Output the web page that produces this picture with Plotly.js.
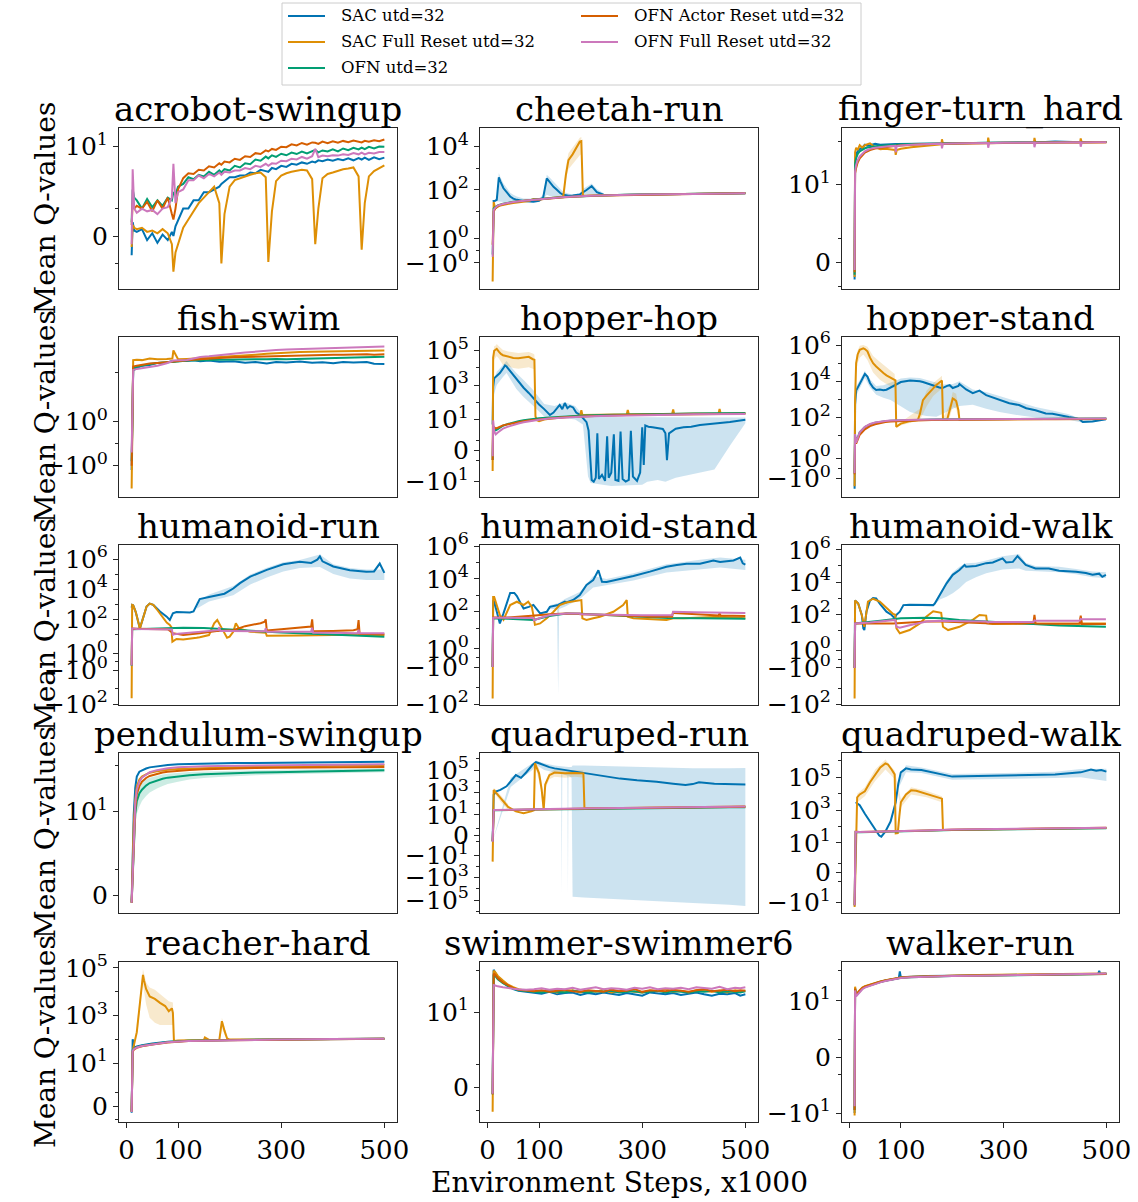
<!DOCTYPE html>
<html><head><meta charset="utf-8">
<script src="https://cdn.plot.ly/plotly-3.0.1.min.js"></script>
<style>html,body{margin:0;padding:0;background:#fff;}#chart{width:1138px;height:1202px;}</style>
</head><body><div id="chart"></div>
<script>
// ---------------- series / labels ----------------
const SERIES = ['SAC utd=32','SAC Full Reset utd=32','OFN utd=32','OFN Actor Reset utd=32','OFN Full Reset utd=32'];
const COLORS = ['#0173B2','#DE8F05','#029E73','#D55E00','#CC78BC'];
const FILLS = ['rgba(1,115,178,0.2)','rgba(222,143,5,0.2)','rgba(2,158,115,0.2)','rgba(213,94,0,0.2)','rgba(204,120,188,0.2)'];
const TITLES = ['acrobot-swingup','cheetah-run','finger-turn_hard','fish-swim','hopper-hop','hopper-stand','humanoid-run','humanoid-stand','humanoid-walk','pendulum-swingup','quadruped-run','quadruped-walk','reacher-hard','swimmer-swimmer6','walker-run'];
const X_TICKS = [0,100,300,500];
const X_LABEL = 'Environment Steps, x1000';
const Y_LABEL = 'Mean Q-values';

// ---------------- acrobot-swingup ----------------
const acro_x = [10,12,15,20,30,40,50,60,70,80,88,91,95,100,110,120,130,140,150,160,170,180,184,190,200,210,220,230,240,250,260,270,275,282,290,300,310,320,330,340,350,360,366,372,380,390,400,410,420,430,440,450,456,462,470,480,490,500];
const acro_sac = [-0.7,0.5,0.2,0.15,0.25,-0.15,0.1,-0.25,0.05,-0.15,0.15,0.0,0.35,0.55,1.0,1.0,1.3,1.3,1.6,1.6,1.7,1.8,1.9,2.0,2.4,2.4,2.6,2.6,3.0,2.9,3.4,3.2,3.1,3.7,3.5,4.1,3.9,4.5,4.3,4.8,4.5,5.0,4.8,5.3,5.1,5.5,5.2,5.6,5.3,5.8,5.3,5.9,5.5,6.0,5.4,6.1,5.6,6.0];
const acro_sacfr = [-0.4,0.4,0.3,0.25,0.3,0.15,0.2,0.1,0.25,0.1,-0.3,-1.3,-0.6,-0.3,0.3,0.6,0.9,1.2,1.4,1.6,1.8,1.2,-1.0,0.8,1.8,2.1,2.3,2.5,2.7,2.9,3.0,2.4,-0.95,0.9,2.0,2.6,2.9,3.1,3.2,3.4,3.3,2.2,-0.3,1.0,2.3,2.8,3.0,3.3,3.5,3.6,3.8,2.5,-0.5,1.2,2.5,3.2,3.7,4.2];
const acro_ofn = [0.5,1.7,1.4,1.3,1.0,1.35,1.05,1.3,1.1,1.4,1.3,1.6,1.5,1.8,1.9,2.4,2.2,2.7,2.5,3.1,2.7,3.3,3.0,3.5,3.3,4.1,3.8,4.6,4.4,5.5,5.2,6.3,5.8,6.7,6.2,7.2,6.7,7.6,7.1,8.0,7.3,8.2,8.6,7.7,8.4,8.0,8.8,8.0,9.2,8.5,9.5,8.8,9.6,8.9,9.9,9.2,10.1,10];
const acro_ofnar = [0.4,1.2,1.0,1.1,1.0,1.25,0.9,1.3,1.0,1.4,0.8,0.6,1.0,1.7,2.3,2.9,2.8,3.4,3.3,4.0,3.8,4.6,4.3,5.0,4.8,5.7,5.4,6.4,6.2,7.4,7.1,8.4,8.0,9.0,8.6,10.0,9.8,11.2,10.6,11.9,11.0,12.2,12.0,11.4,12.7,11.8,12.9,12.0,13.1,12.3,13.3,12.5,12.2,13.2,12.6,13.5,12.9,14];
const acro_ofnfr = [-0.3,3.5,1.0,0.85,1.0,0.9,0.95,0.8,1.0,1.05,1.4,4.5,1.2,1.6,1.7,2.1,2.1,2.6,2.3,2.8,2.5,3.0,2.7,3.1,3.0,3.3,3.3,3.7,3.5,4.1,3.9,4.5,4.1,4.6,4.5,5.2,5.1,5.7,5.5,6.2,5.7,6.4,9.0,6.1,6.6,6.4,6.7,6.6,7.0,6.8,7.4,7.0,7.6,7.0,7.5,7.3,7.8,7.8];
const acro_ticks = [10,0];

// ---------------- cheetah-run ----------------
const chee_x = [10,12,15,18,22,25,31,38,44,50,57,70,80,89,100,108,115,122,128,135,141,147,152,157,165,172,179,182,185,192,202,212,225,250,300,350,400,450,500];
const chee_sac = [30,30,32,35,380,250,120,75,50,40,35,31,29,29,32,45,340,200,140,100,72,60,55,54,55,58,62,70,80,100,150,80,60,58,61,63,66,68,70];
const chee_sacfr = [-4,28,14,16,18,19,21,23,24,25,26,29,31,38,36,38,40,41,42,44,46,50,500,2400,4400,8700,17000,18000,55,54,55,56,57,59,62,64,67,70,72];
const chee_xc = [10,12,15,20,30,50,75,100,150,200,250,300,400,500];
const chee_ofn = [-0.3,14,16,19.5,23,28.5,33,38.5,47.5,54.5,58.5,61.5,66.5,70.5];
const chee_ofnar = [0.5,10,14,18.5,22,27.5,32.5,37.5,46.5,53.5,57.5,61,66,70];
const chee_ofnfr = [-0.5,12,15,19,22.5,28,33,38,47,54,58,61,66,70];
const chee_sac_bx = [18,22,25,31,38,44,50,57,70,100,108,115,122,128,135,141,147,165,179,185,192,202,212,225];
const chee_sac_lo = [30,30,30,28,27,27,27,28,29,30,35,60,50,45,42,42,45,50,50,55,55,60,55,56];
const chee_sac_hi = [40,600,400,200,120,75,60,50,40,40,60,500,350,240,170,110,80,60,70,110,140,200,110,70];
const chee_sacfr_bx = [147,152,157,165,172,179,182,183];
const chee_sacfr_lo = [45,300,900,1500,2500,4000,4500,55];
const chee_sacfr_hi = [55,1200,5000,9000,17000,26000,28000,60];
const chee_ticks = [1e4,1e2,1,-1];

// ---------------- finger-turn_hard ----------------
const fing_x = [10,11,13,16,20,25,30,35,40,50,60,70,80,89,90,92,100,120,150,179,180,182,200,240,269,270,272,300,330,359,360,362,400,430,449,450,452,480,500];
const fing_sac = [-0.7,35,50,58,65,70,82,78,80,86,82,84,84,85,85,85,85,86,87,88,88,88,89,90,91,91,91,92,92,93,93,93,98,94,94,94,94,95,95];
const fing_sacfr = [-0.6,55,70,62,80,70,80,85,88,72,65,66,65,62,48,62,66,72,78,84,110,85,86,88,89,120,89,90,91,91,118,91,92,93,93,115,93,93,94];
const fing_ofn = [-0.5,30,40,50,58,64,68,71,73,76,78,80,81,82,82,82,83,85,87,88,88,88,89,90,91,91,91,92,92.5,93,93,93,94,94,94.5,94.5,94.5,95,95];
const fing_ofnar = [-0.4,18,24,32,40,48,54,58,62,67,70,73,75,77,77,78,79,82,85,87,87,87,88,89,90,90,90,91,92,92,92,92,93,93,94,94,94,94,94];
const fing_ofnfr = [-0.3,20,28,36,44,52,58,62,66,70,73,75,77,78,55,76,79,82,85,87,68,86,88,89,90,70,89,91,92,92,72,91,93,93,94,74,93,94,94];
const fing_ticks = [10,0];

// ---------------- fish-swim ----------------
const fish_x = [10,13,20,30,45,60,78,89,91,100,117,130,143,160,180,207,230,250,272,290,310,336,360,380,401,420,440,466,480,500];
const fish_sac = [-1.2,11,12.5,14.5,15,17,17.5,19,18,19.5,19,19.8,18.8,19.5,18.2,18.6,17.2,17.8,16.5,17.8,17.5,18.5,17.2,17.6,16.6,17.8,17.4,18,16.2,16];
const fish_sacfr = [-2.1,20,20.5,20,22,21,21.5,22,35,21,21.5,22,22,23,24,25,26,27.5,29,30,31,32,32.5,33,33,34,34,35,34.5,35];
const fish_ofn = [-0.8,12.5,13.5,14.5,16,17,17.5,18,18,18.5,19.5,19.5,19.5,20,20.5,21,21,21,21,21.5,21,21.5,21.5,22,22,22.5,23,23.5,24,24.5];
const fish_ofnar = [-1.0,13.7,14.5,15.5,16.5,17,18,18.5,18.5,19,20,20.5,21,22,22.5,23.5,24,24.5,25,25.5,26,26.5,27,27,27.5,27.5,28,28,27.5,28];
const fish_ofnfr = [-0.4,11.2,12.0,12.5,13.7,14.5,16.7,18.5,19.5,19.8,20.1,22,24,25,27,29,31,33,35,36,37,38,39,39.5,40,41,42,43,43.5,44];
const fish_ticks = [1,-1];

// ---------------- hopper-hop ----------------
const hhop_x = [10,11,13,16,18,22,26,30,40,50,60,70,80,88,91,93,96,100,110,120,140,160,180,182,184,220,270,272,274,320,358,360,362,400,448,450,452,500];
const hhop_sacfr = [-2.4,40000,100000,110000,130000,90000,65000,55000,45000,38000,36000,40000,44000,32000,30000,15,9,8,10,11,13,15,17,35,18,19,20,36,20,21,21,38,21,22,22,40,22,23];
const hhop_sac_x = [10,11,13,18,24,30,34,37,45,56,70,80,89,100,110,121,128,135,140,145,150,155,160,166,172,180,186,192,196,199,202,206,210,213,216,222,228,232,235,240,245,248,254,258,262,268,274,278,282,290,296,300,303,306,312,320,330,340,345,348,352,365,380,395,412,440,470,500];
const hhop_sac = [5,800,2500,3500,5000,9000,14000,12000,6000,2200,700,350,170,75,40,18,25,50,70,40,90,45,60,50,25,18,12,7,2.3,-1,-8,-10,-6,1.8,-7,-4,-9,1.5,-6,-3,1.7,-8,-9,2,-7,-10,-8,2.2,-5,-9,-3,3.5,-1.5,4.5,3.8,3.5,3.2,2.8,1.8,-1,1.8,2.9,3.5,3.8,4.8,5.8,7,9.5];
const hhop_xc = [10,11,13,16,20,25,30,40,50,60,70,80,90,100,120,140,160,180,220,270,320,360,400,450,500];
const hhop_ofn = [-1,3,2.5,2.3,2.7,3.3,4.3,5.5,6.8,8,9,10,10.9,11.6,13.2,14.5,15.5,16.5,18,19.5,20.5,21.5,22.5,23,24];
const hhop_ofnar = [-1,4,3.5,3.0,3.3,3.8,4.5,5.3,6.2,7.0,7.8,8.6,9.3,10,11.8,13,14,15,16.5,18,19,19.5,20.5,21,21.5];
const hhop_ofnfr = [-0.6,9,2.0,1.7,1.9,2.3,2.9,3.8,4.8,5.8,6.8,7.8,8.7,9.5,11.3,12.5,13.5,14.5,16,17.5,18.5,19,20,20.5,21];
const hhop_sac_bx = [11,18,30,37,45,56,70,89,110,130,150,170,185,195,200,240,300,310,330,345,365,380,395,412,440,470,500];
const hhop_sac_lo = [200,1000,3000,5000,2000,600,200,60,15,10,12,10,5,-5,-12,-18,-15,-10,-8,-10,-6,-5,-4,-3,-2,0.5,6];
const hhop_sac_hi = [1500,6000,15000,25000,12000,5000,2000,500,80,60,100,60,18,14,14,14,14,14,14,14,14,14,14,14,13,13,13];
const hhop_sacfr_bx = [11,13,16,18,22,30,40,50,60,70,80,88,91,92];
const hhop_sacfr_lo = [10000,30000,40000,50000,35000,15000,12000,10000,9000,10000,11000,9000,8000,15];
const hhop_sacfr_hi = [70000,180000,200000,250000,180000,110000,90000,80000,75000,80000,85000,70000,60000,20];
const hhop_ticks = [1e5,1e3,10,0,-10];

// ---------------- hopper-stand ----------------
const hstd_x = [10,11,13,16,20,27,30,35,40,46,52,59,66,72,80,88,89.5,91,100,118,133,137,143,150,156,163,169,175,180,182,190,195,201,204,207.6,212,214,227,240,253,266,280,292,311,330,344,362,376,382,395,408,427,441,447,454,473,499];
const hstd_sac = [-2.1,500,3000,4500,7600,20000,25000,18000,8000,4500,3300,3500,3200,3400,4500,6000,6200,6500,9000,11000,10500,10000,9000,7600,6500,5500,5000,4500,4200,4300,5500,6000,4200,4500,4800,5500,7000,3500,2200,3000,1700,1200,950,600,480,320,250,180,165,160,130,105,90,80,56,60,80];
const hstd_sacfr = [-1.8,1000,100000,300000,540000,660000,600000,450000,200000,98000,65000,41000,28000,21000,16000,12000,11000,30,45,62,70,150,900,1600,2600,4000,6200,9000,11000,76,75,250,1100,1000,800,250,72,73,74,75,76,77,78,79,80,80,81,82,82,82,83,84,84,84,84,85,85];
const hstd_xc = [10,11,13,16,20,30,40,50,60,70,80,100,130,160,200,250,300,350,400,450,500];
const hstd_ofn = [-0.5,10,4.5,8.5,15,29,41,50,57,62,66,70,73,76,78,80,81,83,84,85,86];
const hstd_ofnar = [-0.6,8,3.5,6,11,22,33,42,49,55,59,64,68,71,74,76,78,79,80,81,82];
const hstd_ofnfr = [-0.5,12,4,8,15,30,43,52,59,64,68,72,75,77,79,81,82,84,85,86,87];
const hstd_sac_bx = [13,20,30,40,52,66,80,91,100,118,137,150,169,182,201,214,240,266,292,330,362,395,427,454,499];
const hstd_sac_lo = [1500,4000,15000,4500,1800,1200,900,600,400,200,140,120,110,160,300,420,500,300,200,130,100,85,75,50,70];
const hstd_sac_hi = [5000,12000,38000,13000,5500,6000,8000,11000,14000,16000,15000,12000,8000,6500,7000,10000,3500,2500,1500,700,380,240,150,75,100];
const hstd_sacfr_bx = [13,16,20,27,35,46,59,72,88,90,137,150,163,175,180,181,195,201,207.6,212];
const hstd_sacfr_lo = [30000,100000,200000,300000,150000,30000,12000,7000,4000,30,70,400,1500,3000,4000,76,100,400,300,100];
const hstd_sacfr_hi = [200000,500000,900000,1000000,800000,250000,120000,60000,25000,35,300,3000,8000,15000,20000,78,500,2500,2000,400];
const hstd_ticks = [1e6,1e4,1e2,1,-1];

// ---------------- humanoid-run ----------------
const hrun_sac_x = [10,11,13,18,26,33,39,45,52,65,78,84,90,97,110,123,130,136,142,160,176,190,207,220,240,272,304,336,358,370,375,380,401,433,465,480,491,500];
const hrun_sac = [600,900,850,300,25,150,700,1100,900,330,150,90,250,300,300,280,330,900,2200,3000,4000,5000,11000,25000,68000,190000,450000,660000,550000,900000,1500000,700000,320000,180000,145000,150000,500000,120000];
const hrun_sacfr_x = [10,11,13,18,26,33,39,45,52,58,65,72,78,84,87,89,92,97,110,123,136,142,146,150,155,160,170,176,185,195,200,207,212,218,240,260,270,272,290,336,401,465,500];
const hrun_sacfr = [-42,900,850,300,25,150,700,1100,900,500,250,117,60,42,30,3.3,4,5,4.5,5.5,6,6.5,7,7,8,9,54,90,25,6,7,15,54,25,15,14,13,8,8,8.5,9,9,9];
const hrun_ofn_x = [10,11,30,60,90,110,150,207,250,300,336,400,450,500];
const hrun_ofn = [-0.5,22,23,25,27,28,26,19.5,16,13.5,11.7,10,8.5,7];
const hrun_ofnar_x = [10,11,40,80,90,100,110,142,175,207,230,260,268,270,272,300,330,358,360,362,400,440,448,450,452,500];
const hrun_ofnar = [-0.4,24,23,22,12,10,9,12,17,19,35,55,70,100,18,22,26,33,100,16,17,19,22,90,11,10];
const hrun_ofnfr_x = [10,11,20,40,60,80,88,90,92,100,120,150,178,180,182,200,250,268,270,272,300,358,360,362,400,448,450,452,500];
const hrun_ofnfr = [-0.45,25,23,22,22,21,21,9.3,10,11,13,16,19,30,17,17,16.5,16,25,15,15,15,28,13,13,12,20,11.7,11.7];
const hrun_sac_bx = [136,160,207,240,272,304,336,375,401,433,465,500];
const hrun_sac_lo = [500,1500,4000,20000,60000,150000,250000,300000,100000,50000,40000,40000];
const hrun_sac_hi = [1300,4500,16000,95000,260000,600000,850000,2000000,450000,250000,200000,200000];
const hrun_ticks = [1e6,1e4,1e2,1,-1,-1e2];

// ---------------- humanoid-stand ----------------
const hstn_sac_x = [10,11,13,18,24,31,40,44,52,57,65,70,80,89,102,115,121,137,150,153,166,179,192,205,215,222,231,250,283,315,347,367,386,412,438,451,477,490,495,500];
const hstn_sac = [-1,500,410,100,19.5,80,500,1400,1400,900,300,160,200,260,79,100,200,260,410,370,520,1050,4300,8500,34000,6800,6500,8500,15000,28000,56000,71000,85000,85000,135000,110000,135000,200000,90000,75000];
const hstn_sacfr_x = [10,11,13,18,24,31,44,57,70,79,86,89,92,102,115,128,140,153,179,182,184,192,205,218,244,263,270,272,283,347,360,380,451,500];
const hstn_sacfr = [-46,800,800,250,63,32,260,410,260,410,200,63,16,19.5,40,100,260,370,520,520,40,32,40,50,100,260,520,50,40,32,40,40,50,40];
const hstn_ofn_x = [10,11,40,89,120,153,180,220,283,350,412,500];
const hstn_ofn = [-1,40,38,32,55,79,75,65,50,42,40,38];
const hstn_ofnar_x = [10,11,40,89,92,120,153,180,182,220,270,272,320,358,360,362,400,448,450,452,500];
const hstn_ofnar = [-1,45,45,63,60,70,79,75,70,65,55,55,50,50,100,85,70,60,80,60,55];
const hstn_ofnfr_x = [10,11,30,60,89,90,92,100,121,153,179,180,182,220,270,272,300,358,360,400,450,452,500];
const hstn_ofnfr = [-1,43,43,43,42,30,32,40,63,79,79,70,72,68,63,60,62,62,100,95,88,86,85];
const hstn_sac_bx = [121,135,137,139,150,179,205,231,283,347,412,451,500];
const hstn_sac_lo = [150,150,-25,150,200,600,3000,4000,8000,25000,40000,50000,35000];
const hstn_sac_hi = [250,350,350,350,600,1600,15000,10000,22000,80000,150000,200000,150000];
const hstn_ticks = [1e6,1e4,1e2,1,-1,-1e2];

// ---------------- humanoid-walk ----------------
const hwlk_sac_x = [10,11,13,17,24,27,29,33,40,46,52,59,72,82,88,91,98,105,117,137,150,163,166,176,189,201,214,224,227,246,266,279,298,305,318,327,337,343,362,388,408,441,460,473,486,492,499];
const hwlk_sac = [-1,700,600,450,87,12.6,10,140,700,1000,950,450,140,87,54,87,140,360,380,360,360,360,450,1550,8300,28000,56000,115000,90000,100000,150000,165000,300000,165000,180000,420000,180000,115000,70000,70000,50000,44000,36000,28000,33000,21000,28000];
const hwlk_sacfr_x = [10,11,13,17,24,29,36,46,59,72,85,89,91.5,98,117,137,150,163,176,178.5,182,192,214,240,253,266,268,279,343,358,359.5,362,400,448,450,452,499];
const hwlk_sacfr = [-45,700,600,450,87,16,600,900,600,250,100,90,12.6,6.3,10,26,70,150,130,120,16,10,16,43,87,80,26,24,25,25,45,25,25,25,60,26,26];
const hwlk_ofn_x = [10,11,60,100,150,180,214,279,343,408,499];
const hwlk_ofn = [-1,26,38,54,58,54,43,32,24,19,16];
const hwlk_ofnar_x = [10,11,85,150,180,214,279,330,358,360,362,400,448,450,452,499];
const hwlk_ofnar = [-1,26,26,34,34,30,26,26,28,90,26,25,26,80,24,24];
const hwlk_ofnfr_x = [10,11,40,85,89,91.5,98,117,150,178.5,180,182,220,266,270,272,320,358,360,362,400,448,450,452,499];
const hwlk_ofnfr = [-1,26,30,40,43,16,14,20,34,38,38,36,35,34,30,32,32,32,40,38,38,38,50,48,48];
const hwlk_sac_bx = [166,176,189,201,214,227,246,266,298,330,343,362,408,441,473,499];
const hwlk_sac_lo = [400,800,1200,2000,4000,10000,20000,35000,60000,70000,50000,45000,40000,30000,20000,18000];
const hwlk_sac_hi = [500,2200,12000,40000,90000,150000,160000,220000,400000,550000,160000,100000,90000,65000,45000,40000];
const hwlk_ticks = [1e6,1e4,1e2,1,-1,-1e2];

// ---------------- pendulum-swingup ----------------
const pend_x = [10,12,14,17,20,25,30,38,45,59,70,80,100,122,150,179,210,250,290,320,360,391,430,470,500];
const pend_sac = [-0.26,1.6,8.5,33,58,74,80,87,92,98,103,104,107,109,110,112,114,115,116,117,118,119,120,121,122];
const pend_sacfr = [-0.3,1.0,5,18,35,50,58,65,70,76,80,82,85,87,89,90,92,94,96,98,99,100,101,102,103];
const pend_ofn = [-0.3,0.7,2.5,9,17,25,30,37,42,48,52,55,59,62,65,67,69,71,72,74,75,76,77,78,80];
const pend_ofnar = [-0.3,0.8,3,12,24,36,45,54,60,67,71,74,78,81,84,86,88,89,90,91,92,92,93,93,94];
const pend_ofnfr = [-0.3,0.9,4,15,30,45,55,65,72,80,85,88,92,95,97,99,100,101,102,103,104,104,105,106,107];
const pend_ofn_lo = [-0.3,0.5,1.5,5,9,13,17,22,26,32,36,40,45,50,54,57,60,62,64,66,68,69,70,71,72];
const pend_ofn_hi = [-0.2,1.0,4,14,26,36,42,50,55,61,64,67,71,73,75,77,78,80,81,82,83,84,85,86,88];
const pend_ticks = [10,0];

// ---------------- quadruped-run ----------------
const qrun_sac_x = [10,12,16,25,37,45,55,65,75,87,94,100,110,120,130,150,186,220,257,290,328,360,384,398,410,440,469,500];
const qrun_sac = [-1,600,1200,1660,3500,9100,35000,20000,60000,280000,500000,400000,250000,180000,140000,100000,50000,30000,17000,12000,9100,6000,4600,5500,8000,6000,5500,5000];
const qrun_sacfr_x = [10,12,16,25,40,55,70,85,90,92,95,100,105,109,112,120,130,150,170,186,188,200,260,330,400,470,500];
const qrun_sacfr = [-37,1660,1000,300,50,20,14,20,25,400000,200000,50000,2000,27,5000,35000,60000,50000,55000,50000,40,38,40,43,48,52,55];
const qrun_xc = [10,12,16,30,60,100,150,200,260,330,400,470,500];
const qrun_ofn = [-1,25,25,26,27,29,31,34,37,40,43,46,48];
const qrun_ofnar = [-1,26,26,27,28,30,33,36,40,43,46,50,52];
const qrun_ofnfr = [-1.08,27,27,28,29,31,34,38,41,45,48,52,54];
const qrun_sac_bx = [10,45,87,94,110,130,143,144,145,150,155,156,157,163,165,186,257,328,398,469,500];
const qrun_sac_lo = [-1,3000,100000,300000,100000,60000,45000,-30000,45000,40000,30000,-30000,30000,20000,-50000,-60000,-90000,-130000,-180000,-260000,-350000];
const qrun_sac_hi = [-1,20000,400000,700000,400000,250000,220000,220000,220000,200000,190000,190000,190000,185000,250000,250000,200000,160000,140000,140000,150000];
const qrun_sacfr_bx1 = [12,16,25,40];
const qrun_sacfr_lo1 = [800,600,150,25];
const qrun_sacfr_hi1 = [2500,1800,600,90];
const qrun_sacfr_bx2 = [91,92,95,100,105,108];
const qrun_sacfr_lo2 = [30000,150000,80000,10000,500,27];
const qrun_sacfr_hi2 = [60000,700000,350000,150000,8000,30];
const qrun_sacfr_bx3 = [112,120,130,150,170,186];
const qrun_sacfr_lo3 = [2000,15000,25000,20000,25000,20000];
const qrun_sacfr_hi3 = [9000,60000,110000,90000,100000,90000];
const qrun_ticks = [1e5,1e3,10,0,-10,-1e3,-1e5];

// ---------------- quadruped-walk ----------------
const qwlk_sac_x = [12,20,30,40,50,58,62,70,80,90,95,100,110,120,140,170,200,250,300,350,400,450,470,480,490,500];
const qwlk_sac = [3000,2000,600,200,80,28,24,50,200,3000,40000,200000,350000,300000,280000,180000,110000,120000,130000,130000,150000,200000,300000,250000,280000,220000];
const qwlk_sacfr_x = [10,15,20,30,40,50,60,70,75,82,88,90,94,97,100,110,120,130,150,170,180,182,190,250,300,350,400,450,500];
const qwlk_sacfr = [-19,6000,9000,14000,50000,150000,400000,700000,600000,300000,150000,38,40,400,3000,9000,16000,15000,10000,6000,5000,62,62,66,70,74,78,80,82];
const qwlk_xc = [10,12,20,40,90,150,200,300,400,500];
const qwlk_ofn = [-15,46,45,46,50,56,62,68,74,78];
const qwlk_ofnar = [-15,47,46,47,51,57,64,71,78,83];
const qwlk_ofnfr = [-15,48,47,48,52,58,65,72,80,85];
const qwlk_sac_bx = [95,110,140,200,300,400,450,500];
const qwlk_sac_lo = [20000,200000,180000,70000,80000,90000,100000,60000];
const qwlk_sac_hi = [60000,550000,400000,160000,180000,220000,320000,330000];
const qwlk_sacfr_bx = [15,30,50,70,88,100,120,150,180];
const qwlk_sacfr_lo = [3000,7000,60000,300000,80000,1500,9000,6000,3000];
const qwlk_sacfr_hi = [10000,25000,300000,1200000,250000,5000,25000,15000,7000];
const qwlk_ticks = [1e5,1e3,10,0,-10];

// ---------------- reacher-hard ----------------
const reac_sacfr_x = [10,12,20,25,29,32,34,38,45,55,65,75,82,88,90,92,100,130,150,152,160,180,185,190,195,200,250,300,400,500];
const reac_sacfr = [-0.45,33,200,2000,20000,51000,30000,13000,6300,5000,3400,2500,1500,2000,1300,85,88,92,93,120,94,95,580,230,110,97,100,102,104,106];
const reac_xc = [10,12,15,20,30,50,80,120,200,300,400,500];
const reac_sac = [-0.5,100,45,50,56,66,78,87,94,99,103,106];
const reac_ofn = [-0.4,35,42,47,54,64,77,86,93,99,103,106];
const reac_ofnar = [-0.4,30,38,44,51,61,74,84,91,97,101,105];
const reac_ofnfr = [-0.45,33,40,45,52,62,75,85,92,98,102,106];
const reac_sacfr_bx = [20,29,32,38,45,55,65,75,82,90,92];
const reac_sacfr_lo = [100,8000,20000,3000,800,500,400,400,400,400,85];
const reac_sacfr_hi = [400,40000,90000,25000,15000,12000,8000,5000,4000,3500,90];
const reac_sacfr_bx2 = [182,185,190,195,198];
const reac_sacfr_lo2 = [95,300,150,105,97];
const reac_sacfr_hi2 = [100,800,350,120,99];
const reac_ticks = [1e5,1e3,10,0];

// ---------------- swimmer-swimmer6 ----------------
const swim_x = [10,12,15,20,30,40,50,60,75,90,105,120,135,150,165,180,195,210,225,240,255,270,285,300,315,330,345,360,375,390,405,420,435,450,465,480,490,500];
const swim_sac = [-0.3,105,90,70,52,42,36,33,31,30,28,31,27,29,30,26,29,27,30,28,26,29,27,25,30,28,27,29,26,28,30,27,25,28,27,29,25,27];
const swim_sacfr = [-1.06,100,92,75,58,46,40,36,33,32,31,33,30,32,34,30,33,31,35,30,32,34,31,30,33,32,36,31,33,30,34,32,31,33,30,34,32,33];
const swim_ofn = [-0.3,80,75,62,50,42,37,34,32,31,30,32,31,30,33,31,30,32,31,33,30,31,32,30,31,33,30,32,31,30,32,31,33,30,32,31,30,32];
const swim_ofnar = [-0.3,85,80,66,52,44,38,35,33,32,34,31,33,35,32,31,34,33,31,35,32,33,36,31,34,33,32,35,33,31,34,36,32,33,35,32,34,33];
const swim_ofnfr = [-0.27,45,44,42,40,38,37,36,35,36,38,35,37,36,39,35,37,40,36,38,37,35,39,37,40,36,38,37,39,36,40,38,37,41,36,39,38,40];
const swim_ticks = [10,0];

// ---------------- walker-run ----------------
const walk_x = [10,11,13,16,20,25,30,40,50,60,70,80,90,96,98,100,120,150,200,250,300,350,400,450,484,486,488,500];
const walk_sac = [-10,26,16,18,22,26,29,33,38,42,46,48,52,55,90,58,61,64,66,68,70,72,73,75,75,95,76,77];
const walk_sacfr = [-12,29,17,19,23,27,30,34,39,43,47,50,54,56,57,58,61,64,66,69,71,73,74,76,77,77,77,78];
const walk_ofn = [-8,24,15,17,21,25,28,32,37,41,45,48,52,54,55,56,59,62,64,66,68,70,71,72,73,73,73,74];
const walk_ofnar = [-8,25,15,18,22,26,29,33,38,42,46,49,53,55,56,57,60,63,65,67,69,71,72,73,74,74,74,75];
const walk_ofnfr = [-6,22,14,16,20,24,27,31,36,40,44,47,50,53,54,55,58,61,64,66,69,71,73,75,76,76,76,77];
const walk_ticks = [10,0,-10];

// ---------------- panel assembly ----------------
const PANELS = [
 {range:[-1.074,2.189], ticks:acro_ticks, lines:[[acro_x,acro_sac],[acro_x,acro_sacfr],[acro_x,acro_ofn],[acro_x,acro_ofnar],[acro_x,acro_ofnfr]], bands:[]},
 {range:[-1.76,5.67], ticks:chee_ticks, lines:[[chee_x,chee_sac],[chee_x,chee_sacfr],[chee_xc,chee_ofn],[chee_xc,chee_ofnar],[chee_xc,chee_ofnfr]],
  bands:[[0,chee_sac_bx,chee_sac_lo,chee_sac_hi],[1,chee_sacfr_bx,chee_sacfr_lo,chee_sacfr_hi]]},
 {range:[-0.608,3.111], ticks:fing_ticks, lines:[[fing_x,fing_sac],[fing_x,fing_sacfr],[fing_x,fing_ofn],[fing_x,fing_ofnar],[fing_x,fing_ofnfr]], bands:[]},
 {range:[-1.346,2.695], ticks:fish_ticks, lines:[[fish_x,fish_sac],[fish_x,fish_sacfr],[fish_x,fish_ofn],[fish_x,fish_ofnar],[fish_x,fish_ofnfr]], bands:[]},
 {range:[-2.705,6.61], ticks:hhop_ticks, lines:[[hhop_sac_x,hhop_sac],[hhop_x,hhop_sacfr],[hhop_xc,hhop_ofn],[hhop_xc,hhop_ofnar],[hhop_xc,hhop_ofnfr]],
  bands:[[0,hhop_sac_bx,hhop_sac_lo,hhop_sac_hi],[1,hhop_sacfr_bx,hhop_sacfr_lo,hhop_sacfr_hi]]},
 {range:[-1.589,7.252], ticks:hstd_ticks, lines:[[hstd_x,hstd_sac],[hstd_x,hstd_sacfr],[hstd_xc,hstd_ofn],[hstd_xc,hstd_ofnar],[hstd_xc,hstd_ofnfr]],
  bands:[[0,hstd_sac_bx,hstd_sac_lo,hstd_sac_hi],[1,hstd_sacfr_bx,hstd_sacfr_lo,hstd_sacfr_hi]]},
 {range:[-2.876,7.74], ticks:hrun_ticks, lines:[[hrun_sac_x,hrun_sac],[hrun_sacfr_x,hrun_sacfr],[hrun_ofn_x,hrun_ofn],[hrun_ofnar_x,hrun_ofnar],[hrun_ofnfr_x,hrun_ofnfr]],
  bands:[[0,hrun_sac_bx,hrun_sac_lo,hrun_sac_hi]]},
 {range:[-2.87,6.88], ticks:hstn_ticks, lines:[[hstn_sac_x,hstn_sac],[hstn_sacfr_x,hstn_sacfr],[hstn_ofn_x,hstn_ofn],[hstn_ofnar_x,hstn_ofnar],[hstn_ofnfr_x,hstn_ofnfr]],
  bands:[[0,hstn_sac_bx,hstn_sac_lo,hstn_sac_hi]]},
 {range:[-2.87,7.12], ticks:hwlk_ticks, lines:[[hwlk_sac_x,hwlk_sac],[hwlk_sacfr_x,hwlk_sacfr],[hwlk_ofn_x,hwlk_ofn],[hwlk_ofnar_x,hwlk_ofnar],[hwlk_ofnfr_x,hwlk_ofnfr]],
  bands:[[0,hwlk_sac_bx,hwlk_sac_lo,hwlk_sac_hi]]},
 {range:[-0.391,3.086], ticks:pend_ticks, lines:[[pend_x,pend_sac],[pend_x,pend_sacfr],[pend_x,pend_ofn],[pend_x,pend_ofnar],[pend_x,pend_ofnfr]],
  bands:[[2,pend_x,pend_ofn_lo,pend_ofn_hi]]},
 {range:[-6.97,7.33], ticks:qrun_ticks, lines:[[qrun_sac_x,qrun_sac],[qrun_sacfr_x,qrun_sacfr],[qrun_xc,qrun_ofn],[qrun_xc,qrun_ofnar],[qrun_xc,qrun_ofnfr]],
  bands:[[0,qrun_sac_bx,qrun_sac_lo,qrun_sac_hi],[1,qrun_sacfr_bx1,qrun_sacfr_lo1,qrun_sacfr_hi1],[1,qrun_sacfr_bx2,qrun_sacfr_lo2,qrun_sacfr_hi2],[1,qrun_sacfr_bx3,qrun_sacfr_lo3,qrun_sacfr_hi3]]},
 {range:[-2.46,7.29], ticks:qwlk_ticks, lines:[[qwlk_sac_x,qwlk_sac],[qwlk_sacfr_x,qwlk_sacfr],[qwlk_xc,qwlk_ofn],[qwlk_xc,qwlk_ofnar],[qwlk_xc,qwlk_ofnfr]],
  bands:[[0,qwlk_sac_bx,qwlk_sac_lo,qwlk_sac_hi],[1,qwlk_sacfr_bx,qwlk_sacfr_lo,qwlk_sacfr_hi]]},
 {range:[-0.667,6.06], ticks:reac_ticks, lines:[[reac_xc,reac_sac],[reac_sacfr_x,reac_sacfr],[reac_xc,reac_ofn],[reac_xc,reac_ofnar],[reac_xc,reac_ofnfr]],
  bands:[[1,reac_sacfr_bx,reac_sacfr_lo,reac_sacfr_hi],[1,reac_sacfr_bx2,reac_sacfr_lo2,reac_sacfr_hi2]]},
 {range:[-0.833,3.02], ticks:swim_ticks, lines:[[swim_x,swim_sac],[swim_x,swim_sacfr],[swim_x,swim_ofn],[swim_x,swim_ofnar],[swim_x,swim_ofnfr]], bands:[]},
 {range:[-2.10,3.07], ticks:walk_ticks, lines:[[walk_x,walk_sac],[walk_x,walk_sacfr],[walk_x,walk_ofn],[walk_x,walk_ofnar],[walk_x,walk_ofnfr]], bands:[]}
];

// ---------------- symlog transform (matplotlib, linthresh=2, linscale=1) ----------------
function T(v){ const a=Math.abs(v); return a<=2 ? v*0.5555556 : Math.sign(v)*(0.8100787+Math.log10(a)); }
function tickLabel(v){
  if(v===0) return '0';
  const e=Math.round(Math.log10(Math.abs(v)));
  return (v<0?'\u221210':'10')+'<sup>'+e+'</sup>';
}

const W=1138, H=1202;
const COLS=[[119,397],[480,758],[842,1119]];
const ROWS=[[128,289],[337,497],[545,705],[753,913],[962,1122]];
const FONT='DejaVu Serif, serif';
const px=x=>x/W, py=y=>1-y/H;
const TICK_SIZE=25;

const traces=[]; const layout={width:W,height:H,margin:{l:0,r:0,t:0,b:0},paper_bgcolor:'#fff',plot_bgcolor:'#fff',showlegend:false,
  font:{family:FONT,color:'#000'},annotations:[],shapes:[]};

PANELS.forEach((p,i)=>{
  const r=Math.floor(i/3), c=i%3, n=i+1;
  const xa='x'+(n===1?'':n), ya='y'+(n===1?'':n);
  const xk='xaxis'+(n===1?'':n), yk='yaxis'+(n===1?'':n);
  layout[xk]={domain:[px(COLS[c][0]),px(COLS[c][1])],anchor:ya,range:[-14.5,524.5],showline:true,mirror:true,linecolor:'#262626',linewidth:1,
    showgrid:false,zeroline:false,ticks:r===4?'outside':'',ticklen:5,tickwidth:1,tickcolor:'#262626',showticklabels:r===4,
    tickmode:'array',tickvals:X_TICKS,ticktext:X_TICKS.map(String),tickfont:{family:FONT,size:26,color:'#000'}};
  const minors=[];
  const cand=[0]; for(let k=0;k<=7;k++){cand.push(Math.pow(10,k));cand.push(-Math.pow(10,k));}
  cand.forEach(v=>{ if(p.ticks.indexOf(v)<0){const t=T(v); if(t>p.range[0]&&t<p.range[1]) minors.push(t);} });
  layout[yk]={domain:[py(ROWS[r][1]),py(ROWS[r][0])],anchor:xa,range:p.range,showline:true,mirror:true,linecolor:'#262626',linewidth:1,
    showgrid:false,zeroline:false,ticks:'outside',ticklen:5,tickwidth:1,tickcolor:'#262626',
    tickmode:'array',tickvals:p.ticks.map(T),ticktext:p.ticks.map(tickLabel),tickfont:{family:FONT,size:TICK_SIZE,color:'#000'},
    minor:{tickmode:'array',tickvals:minors,ticks:'outside',ticklen:3,tickwidth:1,tickcolor:'#262626'}};
  p.bands.forEach(b=>{
    const [s,bx,lo,hi]=b;
    traces.push({type:'scatter',mode:'lines',xaxis:xa,yaxis:ya,x:bx.concat(bx.slice().reverse()),
      y:hi.map(T).concat(lo.map(T).reverse()),fill:'toself',fillcolor:FILLS[s],line:{width:0,color:FILLS[s]},hoverinfo:'skip'});
  });
  p.lines.forEach((ln,s)=>{
    traces.push({type:'scatter',mode:'lines',name:SERIES[s],xaxis:xa,yaxis:ya,x:ln[0],y:ln[1].map(T),
      line:{color:COLORS[s],width:2}});
  });
  layout.annotations.push({text:TITLES[i],xref:'paper',yref:'paper',x:px((COLS[c][0]+COLS[c][1])/2),y:py(ROWS[r][0]),
    xanchor:'center',yanchor:'bottom',yshift:-3,showarrow:false,font:{family:FONT,size:34,color:'#000'}});
});

ROWS.forEach(rw=>{
  layout.annotations.push({text:Y_LABEL,xref:'paper',yref:'paper',x:px(45),y:py((rw[0]+rw[1])/2),textangle:-90,
    xanchor:'center',yanchor:'middle',showarrow:false,font:{family:FONT,size:28,color:'#000'}});
});
layout.annotations.push({text:X_LABEL,xref:'paper',yref:'paper',x:px(619),y:py(1182),xanchor:'center',yanchor:'middle',
  showarrow:false,font:{family:FONT,size:28,color:'#000'}});

// legend (two columns)
layout.shapes.push({type:'rect',xref:'paper',yref:'paper',x0:px(282),x1:px(861),y0:py(3),y1:py(85),line:{color:'#cccccc',width:1},fillcolor:'rgba(255,255,255,0.9)'});
const LEG_POS=[[288,16],[288,42],[288,68],[581,16],[581,42]];
SERIES.forEach((nm,s)=>{
  const [lx,ly]=LEG_POS[s];
  layout.shapes.push({type:'line',xref:'paper',yref:'paper',x0:px(lx),x1:px(lx+37),y0:py(ly),y1:py(ly),line:{color:COLORS[s],width:2}});
  layout.annotations.push({text:nm,xref:'paper',yref:'paper',x:px(lx+51),y:py(ly),xanchor:'left',yanchor:'middle',showarrow:false,
    font:{family:FONT,size:16.5,color:'#000'}});
});

Plotly.newPlot('chart',traces,layout,{staticPlot:true,displayModeBar:false});
</script>
</body></html>
